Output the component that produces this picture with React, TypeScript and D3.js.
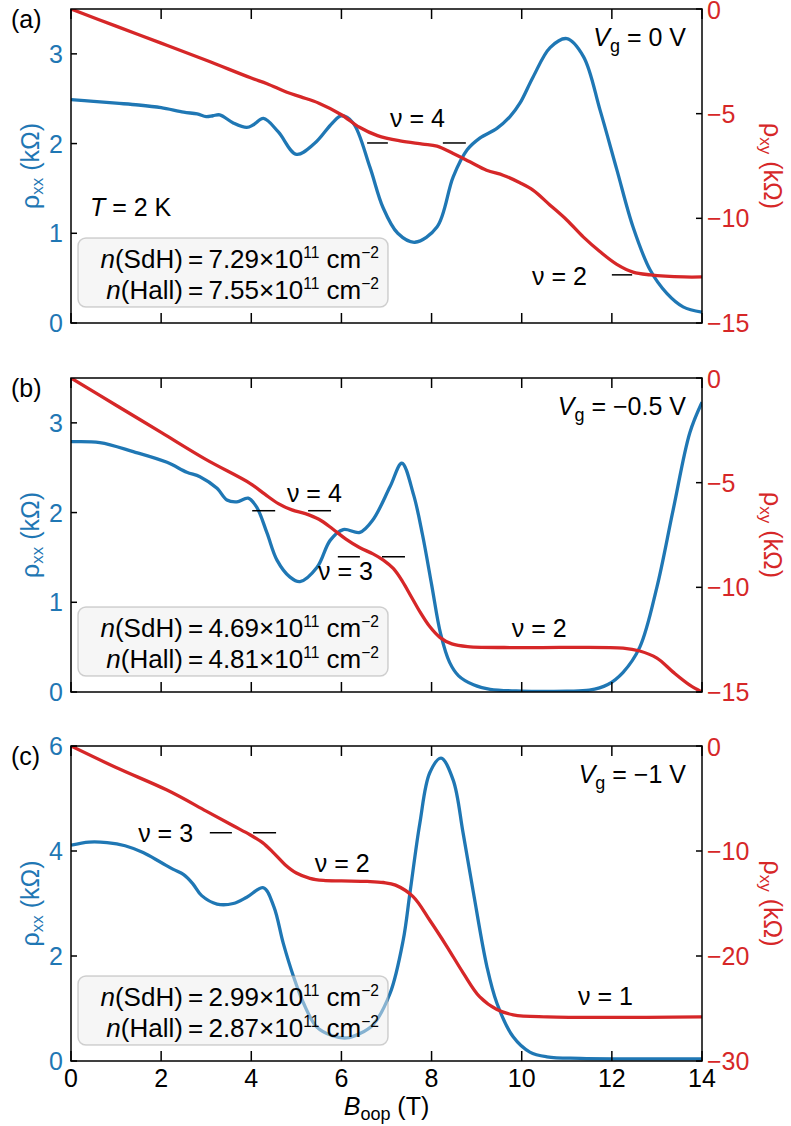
import React from 'react';
import * as d3 from 'd3';

// ---------- data ----------
const B_TICKS = [0, 2, 4, 6, 8, 10, 12, 14];

const A_RXX_TICKS = [0, 1, 2, 3];
const A_RXY_TICKS = [0, -5, -10, -15];
const B_RXX_TICKS = [0, 1, 2, 3];
const B_RXY_TICKS = [0, -5, -10, -15];
const C_RXX_TICKS = [0, 2, 4, 6];
const C_RXY_TICKS = [0, -10, -20, -30];

const A_RHOXX: [number, number][] = [
  [0, 2.49], [0.5, 2.47], [1, 2.45], [1.5, 2.43], [2, 2.4], [2.5, 2.35], [2.8, 2.33], [3.0, 2.3],
  [3.15, 2.31], [3.3, 2.32], [3.6, 2.23], [3.9, 2.18], [4.05, 2.21], [4.27, 2.28], [4.6, 2.13],
  [5.0, 1.88], [5.4, 2.0], [5.8, 2.23], [6.0, 2.31], [6.26, 2.23], [6.63, 1.74], [6.92, 1.29],
  [7.25, 1.0], [7.63, 0.9], [8.12, 1.07], [8.48, 1.63], [8.79, 1.93], [9.07, 2.06], [9.45, 2.17],
  [9.74, 2.3], [9.96, 2.45], [10.25, 2.74], [10.63, 3.07], [11.0, 3.17], [11.37, 2.97],
  [11.74, 2.37], [12.11, 1.71], [12.47, 1.07], [12.85, 0.59], [13.22, 0.33], [13.58, 0.18], [14, 0.12],
];
const A_RHOXY: [number, number][] = [
  [0, 0], [1, -0.82], [2, -1.63], [3, -2.45], [4, -3.3], [4.35, -3.57], [4.79, -3.98], [5.1, -4.2],
  [5.5, -4.5], [6.0, -5.05], [6.4, -5.65], [6.8, -6.05], [7.3, -6.3], [7.8, -6.45], [8.12, -6.55],
  [8.48, -6.9], [8.85, -7.3], [9.22, -7.7], [9.6, -7.95], [9.96, -8.3], [10.25, -8.65],
  [10.63, -9.37], [11.0, -10.08], [11.37, -10.9], [11.74, -11.6], [12.11, -12.2], [12.47, -12.57],
  [12.85, -12.7], [13.6, -12.8], [14, -12.8],
];

const B_RHOXX: [number, number][] = [
  [0, 2.79], [0.64, 2.78], [1.38, 2.68], [2.13, 2.56], [2.57, 2.45], [2.86, 2.4], [3.24, 2.27],
  [3.46, 2.14], [3.68, 2.12], [3.93, 2.16], [4.12, 2.06], [4.35, 1.77], [4.57, 1.47], [4.86, 1.28],
  [5.08, 1.23], [5.46, 1.39], [5.75, 1.69], [6.04, 1.81], [6.41, 1.78], [6.7, 1.92], [7.08, 2.29],
  [7.34, 2.55], [7.6, 2.2], [7.8, 1.75], [8.0, 1.2], [8.2, 0.65], [8.4, 0.33], [8.6, 0.18],
  [8.93, 0.08], [9.3, 0.03], [10, 0.01], [11, 0.01], [11.5, 0.02], [11.9, 0.08], [12.25, 0.22],
  [12.62, 0.5], [13.0, 1.17], [13.36, 2.03], [13.73, 2.89], [14, 3.23],
];
const B_RHOXY: [number, number][] = [
  [0, 0], [1, -1.3], [2, -2.6], [3, -3.9], [3.97, -5.03], [4.3, -5.55], [4.6, -6.0], [4.9, -6.3],
  [5.2, -6.48], [5.5, -6.75], [5.8, -7.2], [6.1, -7.7], [6.4, -8.1], [6.7, -8.4], [6.93, -8.7],
  [7.15, -9.1], [7.35, -9.7], [7.55, -10.45], [7.75, -11.2], [7.95, -11.85], [8.19, -12.4],
  [8.45, -12.7], [8.8, -12.83], [10, -12.88], [12.25, -12.9], [12.62, -13.04], [13.0, -13.38],
  [13.36, -14.05], [13.73, -14.67], [14, -15],
];

const C_RHOXX: [number, number][] = [
  [0, 4.11], [0.4, 4.17], [0.8, 4.16], [1.2, 4.1], [1.6, 3.97], [2.0, 3.78], [2.27, 3.65],
  [2.5, 3.55], [2.7, 3.38], [2.9, 3.15], [3.24, 2.99], [3.6, 3.0], [3.9, 3.12], [4.27, 3.3], [4.5, 2.94],
  [4.71, 2.24], [4.94, 1.6], [5.16, 1.1], [5.45, 0.65], [5.8, 0.48], [6.12, 0.44], [6.4, 0.52],
  [6.7, 0.69], [7.08, 1.29], [7.37, 2.3], [7.52, 3.2], [7.74, 4.53], [7.96, 5.49], [8.21, 5.77],
  [8.48, 5.35], [8.7, 4.34], [8.93, 3.2], [9.23, 1.79], [9.45, 1.1], [9.81, 0.46], [10.18, 0.17],
  [10.56, 0.08], [11.3, 0.05], [14, 0.04],
];
const C_RHOXY: [number, number][] = [
  [0, 0], [1, -2.05], [2.13, -4.2], [3.0, -6.2], [3.6, -7.6], [3.97, -8.45], [4.25, -9.2],
  [4.5, -10.2], [4.75, -11.3], [5.0, -12.1], [5.3, -12.6], [5.6, -12.8], [6.0, -12.85],
  [6.57, -12.9], [6.93, -13.0], [7.2, -13.25], [7.59, -14.35], [7.96, -16.6], [8.34, -19.1],
  [8.7, -21.6], [9.07, -23.9], [9.45, -25.1], [9.81, -25.6], [10.56, -25.8], [14, -25.8],
];

const A_DENSITY = ['7.29', '7.55'];
const B_DENSITY = ['4.69', '4.81'];
const C_DENSITY = ['2.99', '2.87'];

// ---------- style / layout ----------
const W = 791;
const H = 1126;
const X0 = 71;
const X1 = 702;
const BLUE = '#1f77b4';
const RED = '#d62728';
const FONT = '"Liberation Sans", Arial, Helvetica, sans-serif';
const FS = 25;
const FSB = 26;

type NuText = { label: string; b: number; v: number };
type NuLine = { b0: number; b1: number; v: number };

interface PanelCfg {
  id: string;
  top: number;
  bottom: number;
  rxxMax: number;
  rxxTicks: number[];
  rxyMin: number;
  rxyTicks: number[];
  rxx: [number, number][];
  rxy: [number, number][];
  tag: string;
  vg: string;
  density: string[];
  nuTexts: NuText[];
  nuLines: NuLine[];
  showT?: boolean;
  xLabels?: boolean;
}

const PANELS: PanelCfg[] = [
  {
    id: 'a', top: 9, bottom: 323, rxxMax: 3.5, rxxTicks: A_RXX_TICKS, rxyMin: -15, rxyTicks: A_RXY_TICKS,
    rxx: A_RHOXX, rxy: A_RHOXY, tag: '(a)', vg: '0 V', density: A_DENSITY, showT: true,
    nuTexts: [{ label: '4', b: 7.08, v: -5.64 }, { label: '2', b: 10.23, v: -13.19 }],
    nuLines: [{ b0: 6.57, b1: 7.03, v: -6.4 }, { b0: 8.25, b1: 8.76, v: -6.4 }, { b0: 12.0, b1: 12.45, v: -12.7 }],
  },
  {
    id: 'b', top: 378, bottom: 692, rxxMax: 3.5, rxxTicks: B_RXX_TICKS, rxyMin: -15, rxyTicks: B_RXY_TICKS,
    rxx: B_RHOXX, rxy: B_RHOXY, tag: '(b)', vg: '\u22120.5 V', density: B_DENSITY,
    nuTexts: [{ label: '4', b: 4.79, v: -5.92 }, { label: '3', b: 5.48, v: -9.65 }, { label: '2', b: 9.78, v: -12.37 }],
    nuLines: [{ b0: 4.02, b1: 4.53, v: -6.34 }, { b0: 5.26, b1: 5.77, v: -6.34 },
      { b0: 5.92, b1: 6.41, v: -8.54 }, { b0: 6.9, b1: 7.41, v: -8.54 }],
  },
  {
    id: 'c', top: 746, bottom: 1061, rxxMax: 6, rxxTicks: C_RXX_TICKS, rxyMin: -30, rxyTicks: C_RXY_TICKS,
    rxx: C_RHOXX, rxy: C_RHOXY, tag: '(c)', vg: '\u22121 V', density: C_DENSITY, xLabels: true,
    nuTexts: [{ label: '3', b: 1.49, v: -9.14 }, { label: '2', b: 5.41, v: -12.0 }, { label: '1', b: 11.25, v: -24.67 }],
    nuLines: [{ b0: 3.08, b1: 3.57, v: -8.26 }, { b0: 4.04, b1: 4.55, v: -8.26 }],
  },
];

const x = d3.scaleLinear().domain([0, 14]).range([X0, X1]);

function Panel({ p }: { p: PanelCfg }) {
  const yL = d3.scaleLinear().domain([0, p.rxxMax]).range([p.bottom, p.top]);
  const yR = d3.scaleLinear().domain([p.rxyMin, 0]).range([p.bottom, p.top]);
  const lineL = d3.line<[number, number]>().x((d) => x(d[0])).y((d) => yL(d[1])).curve(d3.curveCatmullRom.alpha(0.5));
  const lineR = d3.line<[number, number]>().x((d) => x(d[0])).y((d) => yR(d[1])).curve(d3.curveCatmullRom.alpha(0.5));
  const clipId = `clip-${p.id}`;
  const mid = (p.top + p.bottom) / 2;
  const boxTop = p.bottom - 85;
  return (
    <g>
      <defs>
        <clipPath id={clipId}>
          <rect x={X0} y={p.top} width={X1 - X0} height={p.bottom - p.top} />
        </clipPath>
      </defs>
      <g clipPath={`url(#${clipId})`}>
        <path d={lineL(p.rxx) || ''} fill="none" stroke={BLUE} strokeWidth={3.3} strokeLinejoin="round" />
        <path d={lineR(p.rxy) || ''} fill="none" stroke={RED} strokeWidth={3.3} strokeLinejoin="round" />
      </g>
      {/* nu markers */}
      {p.nuLines.map((l, i) => (
        <line key={`nl${i}`} x1={x(l.b0)} x2={x(l.b1)} y1={yR(l.v)} y2={yR(l.v)} stroke="#000" strokeWidth={1.5} />
      ))}
      {p.nuTexts.map((t, i) => (
        <text key={`nt${i}`} x={x(t.b)} y={yR(t.v)} fontSize={FS} fill="#000">{`\u03bd = ${t.label}`}</text>
      ))}
      {/* density box */}
      <rect x={78} y={boxTop} width={310} height={69} rx={8} ry={8} fill="#eeeeee" fillOpacity={0.5}
        stroke="#999" strokeOpacity={0.45} strokeWidth={1.5} />
      {[['SdH', p.density[0]], ['Hall', p.density[1]]].map(([nm, val], i) => (
        <text key={`d${i}`} x={379} y={boxTop + 30 + i * 31} fontSize={FSB} textAnchor="end" fill="#000">
          <tspan fontStyle="italic">n</tspan>
          <tspan>{`(${nm})\u2009=\u2009${val}\u00d710`}</tspan>
          <tspan fontSize={FSB * 0.6} dy={-10}>11</tspan>
          <tspan dy={10}>{' cm'}</tspan>
          <tspan fontSize={FSB * 0.6} dy={-10}>{'\u22122'}</tspan>
        </text>
      ))}
      {p.showT && (
        <text x={90} y={p.bottom - 107} fontSize={FS} fill="#000">
          <tspan fontStyle="italic">T</tspan>
          <tspan>{' = 2 K'}</tspan>
        </text>
      )}
      {/* Vg */}
      <text x={686} y={p.top + 37} fontSize={FS} textAnchor="end" fill="#000">
        <tspan fontStyle="italic">V</tspan>
        <tspan fontSize={FS * 0.72} dy={6}>g</tspan>
        <tspan dy={-6}>{` = ${p.vg}`}</tspan>
      </text>
      {/* panel tag */}
      <text x={11} y={p.top + 19} fontSize={FS} fill="#000">{p.tag}</text>
      {/* frame */}
      <rect x={X0} y={p.top} width={X1 - X0} height={p.bottom - p.top} fill="none" stroke="#000" strokeWidth={1.5} />
      {/* x ticks */}
      {B_TICKS.map((b) => (
        <g key={`xt${b}`}>
          <line x1={x(b)} x2={x(b)} y1={p.bottom} y2={p.bottom - 10} stroke="#000" strokeWidth={1.5} />
          <line x1={x(b)} x2={x(b)} y1={p.top} y2={p.top + 10} stroke="#000" strokeWidth={1.5} />
          {p.xLabels && (
            <text x={x(b)} y={p.bottom + 26} fontSize={FS} textAnchor="middle" fill="#000">{b}</text>
          )}
        </g>
      ))}
      {/* left ticks */}
      {p.rxxTicks.map((v) => (
        <g key={`yl${v}`}>
          <line x1={X0} x2={X0 + 6} y1={yL(v)} y2={yL(v)} stroke="#000" strokeWidth={1.5} />
          <text x={63} y={yL(v)} dy="0.36em" fontSize={FS} textAnchor="end" fill={BLUE}>{v}</text>
        </g>
      ))}
      {/* right ticks */}
      {p.rxyTicks.map((v) => (
        <g key={`yr${v}`}>
          <line x1={X1} x2={X1 - 6} y1={yR(v)} y2={yR(v)} stroke="#000" strokeWidth={1.5} />
          <text x={707} y={yR(v) + (v === 0 ? 1 : 0)} dy="0.36em" fontSize={FS} textAnchor="start" fill={RED}>
            {v < 0 ? `\u2212${Math.abs(v)}` : `${v}`}
          </text>
        </g>
      ))}
      {/* axis labels */}
      <text transform={`translate(39,${mid}) rotate(-90)`} textAnchor="middle" fontSize={FS} fill={BLUE}>
        <tspan>{'\u03c1'}</tspan>
        <tspan fontSize={FS * 0.68} dy={4}>xx</tspan>
        <tspan dy={-4}>{' (k\u03a9)'}</tspan>
      </text>
      <text transform={`translate(764,${mid}) rotate(90)`} textAnchor="middle" fontSize={FS} fill={RED}>
        <tspan>{'\u03c1'}</tspan>
        <tspan fontSize={FS * 0.68} dy={4}>xy</tspan>
        <tspan dy={-4}>{' (k\u03a9)'}</tspan>
      </text>
    </g>
  );
}

export default function App() {
  return (
    <svg width={W} height={H} viewBox={`0 0 ${W} ${H}`}
      style={{ position: 'absolute', left: 0, top: 0, background: '#fff' }}
      fontFamily={FONT}>
      <rect x={0} y={0} width={W} height={H} fill="#fff" />
      {PANELS.map((p) => <Panel key={p.id} p={p} />)}
      <text x={(X0 + X1) / 2} y={1115} fontSize={FS} textAnchor="middle" fill="#000">
        <tspan fontStyle="italic">B</tspan>
        <tspan fontSize={FS * 0.72} dy={5}>oop</tspan>
        <tspan dy={-5}>{' (T)'}</tspan>
      </text>
    </svg>
  );
}
